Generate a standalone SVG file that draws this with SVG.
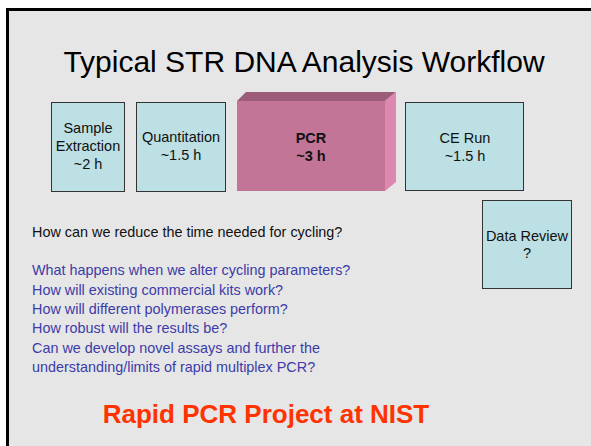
<svg xmlns="http://www.w3.org/2000/svg" width="591" height="446" viewBox="0 0 591 446">
<style>
text { font-family: "Liberation Sans", Arial, sans-serif; }
.box { fill: #bce0e3; stroke: #333333; stroke-width: 1; }
.lbl { font-size: 14.5px; fill: #111111; text-anchor: middle; }
.q { font-size: 14.4px; fill: #3c3ca8; }
</style>
<rect x="0" y="0" width="591" height="446" fill="#ffffff"/>
<rect x="7.5" y="9.5" width="600" height="450" fill="#e6e6e6" stroke="#000000" stroke-width="3"/>
<text x="304" y="72" font-size="30" text-anchor="middle" fill="#000000">Typical STR DNA Analysis Workflow</text>
<g id="sample-extraction">
<rect class="box" x="51.5" y="102.5" width="73" height="89"/>
<text class="lbl" x="88" y="133">Sample</text>
<text class="lbl" x="88" y="151">Extraction</text>
<text class="lbl" x="88" y="169">~2 h</text>
</g>
<g id="quantitation">
<rect class="box" x="136.5" y="102.5" width="89" height="89"/>
<text class="lbl" x="181" y="142">Quantitation</text>
<text class="lbl" x="181" y="160">~1.5 h</text>
</g>
<g id="pcr">
<polygon points="237,101 246,92 396,92 385,101" fill="#9c5c78"/>
<polygon points="385,101 396,92 396,182 385,191" fill="#dd88b0"/>
<rect x="237" y="101" width="148" height="90" fill="#c27596"/>
<text class="lbl" x="311" y="143" font-weight="bold">PCR</text>
<text class="lbl" x="311" y="161" font-weight="bold">~3 h</text>
</g>
<g id="ce-run">
<rect class="box" x="405.5" y="102.5" width="118" height="88"/>
<text class="lbl" x="465" y="143">CE Run</text>
<text class="lbl" x="465" y="161">~1.5 h</text>
</g>
<g id="data-review">
<rect class="box" x="482.5" y="200.5" width="89" height="88"/>
<text class="lbl" x="527" y="241">Data Review</text>
<text class="lbl" x="527" y="258">?</text>
</g>
<g id="connectors"></g>
<text x="32" y="237" font-size="14.4" fill="#111111">How can we reduce the time needed for cycling?</text>
<text class="q" x="32" y="275">What happens when we alter cycling parameters?</text>
<text class="q" x="32" y="295">How will existing commercial kits work?</text>
<text class="q" x="32" y="314">How will different polymerases perform?</text>
<text class="q" x="32" y="333">How robust will the results be?</text>
<text class="q" x="32" y="353">Can we develop novel assays and further the</text>
<text class="q" x="32" y="372">understanding/limits of rapid multiplex PCR?</text>
<text x="266" y="423" font-size="26" font-weight="bold" text-anchor="middle" fill="#ff3300">Rapid PCR Project at NIST</text>
</svg>
